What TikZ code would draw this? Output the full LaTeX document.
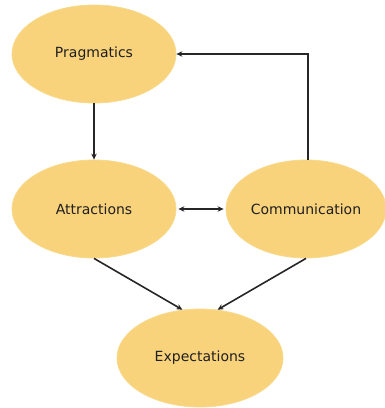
\documentclass[tikz,border=0pt]{standalone}
\usepackage{fontspec}
\setmainfont{DejaVu Sans}
\usetikzlibrary{shapes.geometric,arrows.meta,calc}
\begin{document}
\begin{tikzpicture}[x=1pt,y=-1pt,
  bub/.style={ellipse,draw=ellipseline,line width=0.8pt,fill=ellipsefill,minimum width=#1,minimum height=98pt,inner sep=0pt,font=\fontsize{14}{16}\selectfont,text=black!88},
  bub/.default=164pt,
  tip/.style={Stealth[length=6pt,width=5.5pt]},
  conn/.style={line width=1.6pt,draw=black!85,-{Stealth[length=6pt,width=5.5pt]}}]
\definecolor{ellipsefill}{HTML}{F9D27C}
\definecolor{ellipseline}{HTML}{F7DA8A}
\useasboundingbox (0,0) rectangle (385,408);
\node[bub] (prag) at (94,54) {Pragmatics};
\node[bub] (attr) at (94,209) {Attractions};
\node[bub=160pt] (comm) at (306,209) {Communication};
\node[bub=166pt] (expe) at (200,358) {Expectations};
\coordinate (corner) at (308,54);
\draw[conn] (prag.south) -- (attr.north);
\draw[conn] (comm.north -| corner) -- (corner) -- (prag.east);
\draw[conn,{Stealth[length=6pt,width=5.5pt]}-{Stealth[length=6pt,width=5.5pt]}] ($(attr.east)+(2,0)$) -- ($(comm.west)+(-2,0)$);
\draw[conn] (attr.south) -- (expe.110);
\draw[conn] (comm.south) -- (expe.70);
\end{tikzpicture}
\end{document}
